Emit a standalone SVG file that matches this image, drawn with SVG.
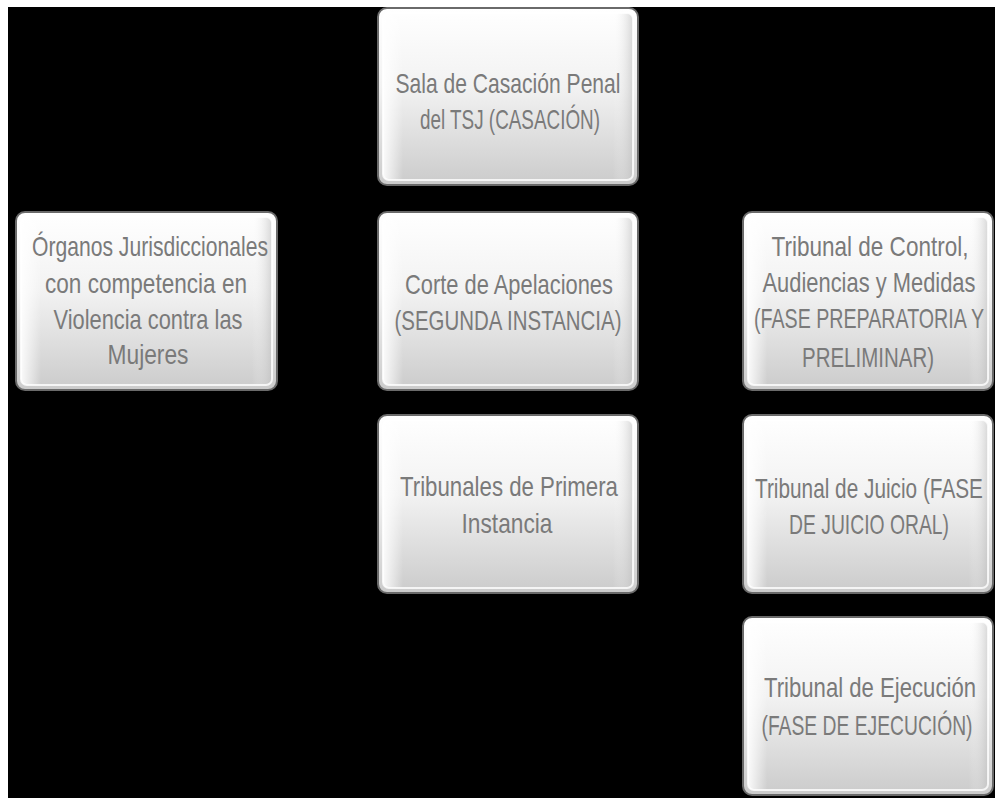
<svg xmlns="http://www.w3.org/2000/svg" width="995" height="798" viewBox="0 0 995 798">
<defs>
<linearGradient id="g" x1="0" y1="0" x2="0" y2="1">
<stop offset="0" stop-color="#ffffff"/>
<stop offset="0.45" stop-color="#f2f2f2"/>
<stop offset="1" stop-color="#cbcbcb"/>
</linearGradient>
<linearGradient id="side" x1="0" y1="0" x2="1" y2="0">
<stop offset="0" stop-color="#ffffff" stop-opacity="0.9"/>
<stop offset="0.08" stop-color="#ffffff" stop-opacity="0"/>
<stop offset="0.92" stop-color="#ffffff" stop-opacity="0"/>
<stop offset="1" stop-color="#bdbdbd" stop-opacity="0.6"/>
</linearGradient>
</defs>
<style>
.box{fill:url(#g);stroke:#6a6a6a;stroke-width:2}
.bev{fill:url(#side);stroke:#ffffff;stroke-width:2;stroke-opacity:0.8}
.t{font-family:"Liberation Sans",Arial,sans-serif;font-size:20px;fill:#7a7a7a;text-anchor:middle}
</style>
<rect x="0" y="0" width="995" height="798" fill="#ffffff"/>
<rect x="8" y="7" width="987" height="791" fill="#000000"/>

<g id="sala">
<rect class="box" x="378" y="8" width="260" height="177" rx="9"/>
<rect class="bev" x="383" y="13" width="250" height="167" rx="6"/>
<g transform="scale(1,1.35)">
<text class="t" x="508" y="68.9" textLength="225" lengthAdjust="spacingAndGlyphs">Sala de Casación Penal</text>
<text class="t" x="510" y="95.6" textLength="180" lengthAdjust="spacingAndGlyphs">del TSJ (CASACIÓN)</text>
</g>
</g>

<g id="organos">
<rect class="box" x="16" y="212" width="261" height="178" rx="9"/>
<rect class="bev" x="21" y="217" width="251" height="168" rx="6"/>
<g transform="scale(1,1.35)">
<text class="t" x="150" y="189.6" textLength="236" lengthAdjust="spacingAndGlyphs">Órganos Jurisdiccionales</text>
<text class="t" x="146" y="217.0" textLength="202" lengthAdjust="spacingAndGlyphs">con competencia en</text>
<text class="t" x="148" y="243.7" textLength="189" lengthAdjust="spacingAndGlyphs">Violencia contra las</text>
<text class="t" x="148" y="269.6" textLength="81" lengthAdjust="spacingAndGlyphs">Mujeres</text>
</g>
</g>

<g id="corte">
<rect class="box" x="378" y="212" width="260" height="178" rx="9"/>
<rect class="bev" x="383" y="217" width="250" height="168" rx="6"/>
<g transform="scale(1,1.35)">
<text class="t" x="509" y="217.8" textLength="208" lengthAdjust="spacingAndGlyphs">Corte de Apelaciones</text>
<text class="t" x="508" y="244.4" textLength="227" lengthAdjust="spacingAndGlyphs">(SEGUNDA INSTANCIA)</text>
</g>
</g>

<g id="primera">
<rect class="box" x="378" y="415" width="260" height="178" rx="9"/>
<rect class="bev" x="383" y="420" width="250" height="168" rx="6"/>
<g transform="scale(1,1.35)">
<text class="t" x="509" y="367.4" textLength="218" lengthAdjust="spacingAndGlyphs">Tribunales de Primera</text>
<text class="t" x="507" y="394.8" textLength="91" lengthAdjust="spacingAndGlyphs">Instancia</text>
</g>
</g>

<g id="control">
<rect class="box" x="743" y="212" width="250" height="178" rx="9"/>
<rect class="bev" x="748" y="217" width="240" height="168" rx="6"/>
<g transform="scale(1,1.35)">
<text class="t" x="870" y="189.6" textLength="197" lengthAdjust="spacingAndGlyphs">Tribunal de Control,</text>
<text class="t" x="869" y="216.3" textLength="213" lengthAdjust="spacingAndGlyphs">Audiencias y Medidas</text>
<text class="t" x="869" y="243.0" textLength="230" lengthAdjust="spacingAndGlyphs">(FASE PREPARATORIA Y</text>
<text class="t" x="868" y="271.9" textLength="132" lengthAdjust="spacingAndGlyphs">PRELIMINAR)</text>
</g>
</g>

<g id="juicio">
<rect class="box" x="743" y="415" width="250" height="178" rx="9"/>
<rect class="bev" x="748" y="420" width="240" height="168" rx="6"/>
<g transform="scale(1,1.35)">
<text class="t" x="869" y="368.9" textLength="228" lengthAdjust="spacingAndGlyphs">Tribunal de Juicio (FASE</text>
<text class="t" x="869" y="395.6" textLength="160" lengthAdjust="spacingAndGlyphs">DE JUICIO ORAL)</text>
</g>
</g>

<g id="ejecucion">
<rect class="box" x="743" y="617" width="250" height="178" rx="9"/>
<rect class="bev" x="748" y="622" width="240" height="168" rx="6"/>
<g transform="scale(1,1.35)">
<text class="t" x="870" y="516.3" textLength="212" lengthAdjust="spacingAndGlyphs">Tribunal de Ejecución</text>
<text class="t" x="867" y="544.4" textLength="211" lengthAdjust="spacingAndGlyphs">(FASE DE EJECUCIÓN)</text>
</g>
</g>

<g id="connectors"></g>
</svg>
